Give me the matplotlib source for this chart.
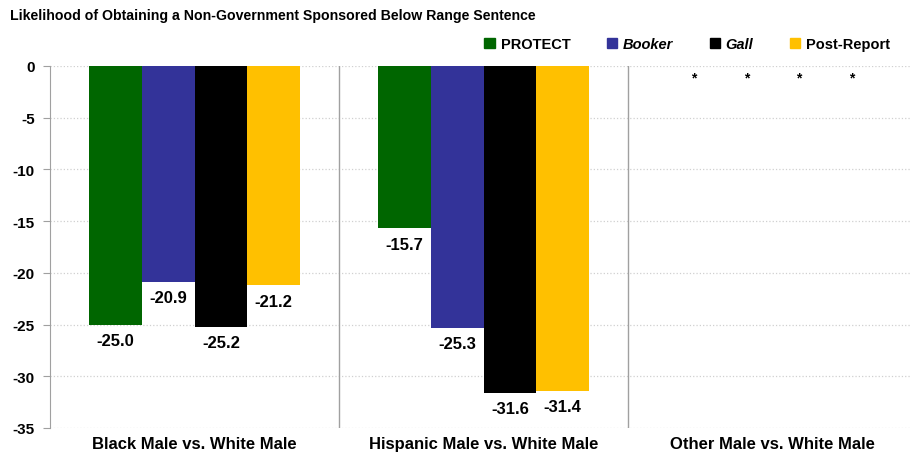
import numpy as np
from matplotlib import pyplot as plt
from matplotlib.patches import Patch

groups = ['Black Male vs. White Male', 'Hispanic Male vs. White Male', 'Other Male vs. White Male']
series = ['PROTECT', 'Booker', 'Gall', 'Post-Report']
# None = not reported (shown as *)
values = {
    'PROTECT': [-25.0, -15.7, None],
    'Booker': [-20.9, -25.3, None],
    'Gall': [-25.2, -31.6, None],
    'Post-Report': [-21.2, -31.4, None],
}
colors = ['#006600', '#333399', '#000000', '#FFC000']
italic = [False, True, True, False]
yticks = [0, -5, -10, -15, -20, -25, -30, -35]

plt.rcParams['font.family'] = ['Liberation Sans', 'DejaVu Sans']
fig = plt.figure(figsize=(9.11, 4.56), dpi=100)
ax = fig.add_axes([50 / 911, 1 - 429 / 456, (911 - 50) / 911, (429 - 67) / 456])

x = np.arange(len(groups))
width = 0.182
offsets = (np.arange(len(series)) - 1.5) * width
for i, name in enumerate(series):
    vals = values[name]
    for j, v in enumerate(vals):
        xpos = x[j] + offsets[i]
        if v is None:
            ax.annotate('*', (xpos, 0), xytext=(0, -3), textcoords='offset points',
                        ha='center', va='top', fontsize=10, fontweight='bold')
            continue
        ax.bar(xpos, v, width, color=colors[i], zorder=2)
        ax.annotate(f'{v:.1f}', (xpos, v), xytext=(0, -6), textcoords='offset points',
                    ha='center', va='top', fontsize=12, fontweight='bold')

ax.set_ylim(-35, 0)
ax.set_xlim(-0.5, 2.479)
ax.set_yticks(yticks)
ax.set_yticklabels([str(t) for t in yticks], fontsize=11, fontweight='bold')
ax.yaxis.grid(True, color='#d0d0d0', linestyle=':', linewidth=0.9, zorder=0)
ax.set_axisbelow(True)
ax.tick_params(axis='y', length=5, color='#a0a0a0', pad=6)
ax.set_xticks(x)
ax.set_xticklabels(groups, fontsize=12, fontweight='bold')
ax.tick_params(axis='x', length=0, pad=6)
for s in ['top', 'right', 'bottom']:
    ax.spines[s].set_visible(False)
ax.spines['left'].set_color('#a0a0a0')
for b in [0.5, 1.5]:
    ax.axvline(b, color='#a0a0a0', linewidth=1, zorder=1)

fig.text(10 / 911, 1 - 16 / 456, 'Likelihood of Obtaining a Non-Government Sponsored Below Range Sentence',
         fontsize=10.2, fontweight='bold', va='center', ha='left')

handles = [Patch(color=c) for c in colors]
lgnd = fig.legend(handles, series, loc='center right', bbox_to_anchor=(903 / 911, 1 - 45 / 456),
                  ncol=4, frameon=False, handlelength=0.7, handleheight=0.7, handletextpad=0.4,
                  columnspacing=2.5, prop={'weight': 'bold', 'size': 10.5})
for t, it in zip(lgnd.get_texts(), italic):
    if it:
        t.set_style('italic')

fig.savefig('out.png', dpi=100)
